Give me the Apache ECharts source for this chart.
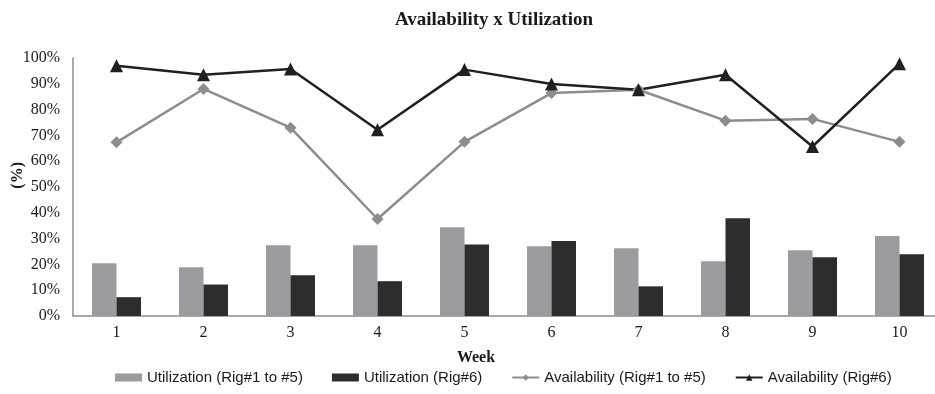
<!DOCTYPE html>
<html>
<head>
<meta charset="utf-8">
<script src="https://cdn.jsdelivr.net/npm/echarts@6/dist/echarts.min.js"></script>
<style>
  html, body { margin: 0; padding: 0; background: #fff; }
  #chart { width: 935px; height: 394px; }
</style>
</head>
<body>
<div id="chart"></div>
<script>
// Weekly availability and utilization of the rigs (values in %)
const weeks = ['1', '2', '3', '4', '5', '6', '7', '8', '9', '10'];
const utilRig1to5 = [20.4, 18.9, 27.4, 27.4, 34.4, 27.0, 26.3, 21.2, 25.5, 31.0];
const utilRig6 = [7.3, 12.2, 15.8, 13.5, 27.7, 29.1, 11.5, 37.9, 22.8, 23.9];
const availRig1to5 = [67.3, 88.0, 73.0, 37.6, 67.5, 86.4, 87.7, 75.7, 76.4, 67.5];
const availRig6 = [97.0, 93.5, 95.7, 72.2, 95.5, 89.9, 87.7, 93.5, 65.7, 97.8];
const yTicks = { min: 0, max: 100, step: 10 };

const serif = '"Liberation Serif", "Times New Roman", serif';
const sans = '"Liberation Sans", Arial, sans-serif';

const chart = echarts.init(document.getElementById('chart'), null, { renderer: 'canvas' });

chart.setOption({
  backgroundColor: '#ffffff',
  animation: false,
  title: {
    text: 'Availability x Utilization',
    left: 489,
    top: 6,
    textAlign: 'center',
    textStyle: { fontFamily: serif, fontWeight: 'bold', fontSize: 19, color: '#1a1a1a' }
  },
  legend: {
    bottom: 4,
    left: 110,
    itemGap: 29,
    itemWidth: 27,
    itemHeight: 8,
    textStyle: { fontFamily: sans, fontSize: 15, color: '#1a1a1a' },
    data: [
      { name: 'Utilization (Rig#1 to #5)', icon: 'rect' },
      { name: 'Utilization (Rig#6)', icon: 'rect' },
      { name: 'Availability (Rig#1 to #5)' },
      { name: 'Availability (Rig#6)' }
    ]
  },
  // the plot area runs a little past the right edge of the canvas
  grid: { left: 73, width: 870, top: 58, bottom: 78, containLabel: false, outerBoundsMode: 'none' },
  xAxis: {
    type: 'category',
    data: weeks,
    name: 'Week',
    nameLocation: 'middle',
    nameGap: 34,
    nameTextStyle: { fontFamily: serif, fontWeight: 'bold', fontSize: 16, color: '#1a1a1a', padding: [0, 64, 0, 0] },
    axisLine: { lineStyle: { color: '#8c8c8c', width: 1.5 } },
    axisTick: { show: false },
    axisLabel: { fontFamily: serif, fontSize: 16, color: '#1a1a1a', margin: 9 },
    splitLine: { show: false }
  },
  yAxis: {
    type: 'value',
    min: yTicks.min,
    max: yTicks.max,
    interval: yTicks.step,
    axisLine: { show: true, lineStyle: { color: '#8c8c8c', width: 1.5 } },
    axisTick: { show: false },
    axisLabel: { formatter: '{value}%', fontFamily: serif, fontSize: 16, color: '#1a1a1a', margin: 13 },
    splitLine: { show: false }
  },
  graphic: [{
    type: 'text',
    left: 10,
    top: 162,
    rotation: Math.PI / 2,
    style: {
      text: '(%)',
      font: 'bold 16px ' + serif,
      fill: '#1a1a1a'
    }
  }],
  series: [
    {
      name: 'Utilization (Rig#1 to #5)',
      type: 'bar',
      data: utilRig1to5,
      barWidth: 24.5,
      barGap: '0%',
      itemStyle: { color: '#9b9ca0' }
    },
    {
      name: 'Utilization (Rig#6)',
      type: 'bar',
      data: utilRig6,
      barWidth: 24.5,
      barGap: '0%',
      itemStyle: { color: '#2d2c2e' }
    },
    {
      name: 'Availability (Rig#1 to #5)',
      type: 'line',
      data: availRig1to5,
      symbol: 'diamond',
      symbolSize: 12,
      lineStyle: { color: '#8d8d8d', width: 2.5 },
      itemStyle: { color: '#8d8d8d' }
    },
    {
      name: 'Availability (Rig#6)',
      type: 'line',
      data: availRig6,
      symbol: 'triangle',
      symbolSize: 13,
      lineStyle: { color: '#202020', width: 2.5 },
      itemStyle: { color: '#202020' }
    }
  ]
});
</script>
</body>
</html>
